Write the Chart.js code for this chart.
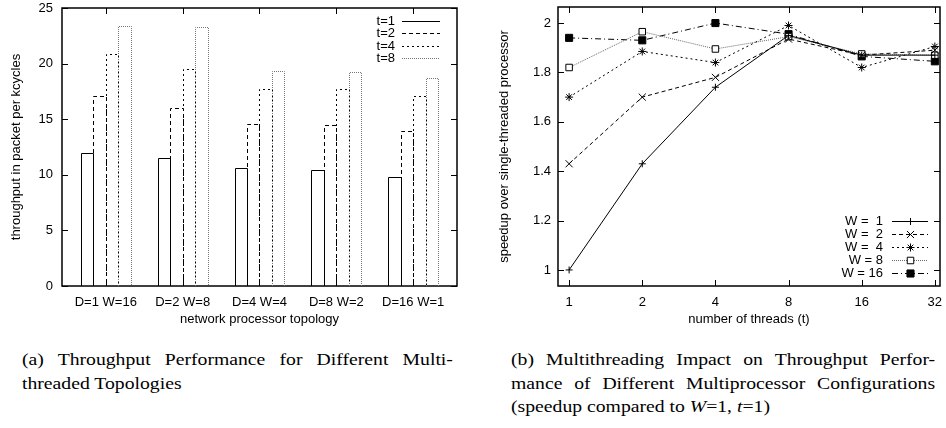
<!DOCTYPE html>
<html>
<head>
<meta charset="utf-8">
<script src="https://cdn.jsdelivr.net/npm/chart.js@4/dist/chart.umd.min.js"></script>
<style>
body { margin: 0; background: #fff; width: 946px; height: 428px; position: relative; overflow: hidden; }
.box { position: absolute; top: 0; width: 473px; height: 335px; }
#left { left: 0; }
#right { left: 473px; }
.caption { position: absolute; font-family: "Liberation Serif", "Times New Roman", serif; font-size: 17.5px; line-height: 23.5px; color: #000; transform: scaleX(1.125); transform-origin: 0 0; }
.caption div { text-align: justify; text-align-last: justify; white-space: nowrap; }
.caption div.last { text-align-last: left; }
#capA { left: 22px; top: 348px; width: 383px; }
#capB { left: 511px; top: 348px; width: 377px; }
</style>
</head>
<body>
<div class="box" id="left"><canvas id="barChart"></canvas></div>
<div class="box" id="right"><canvas id="lineChart"></canvas></div>
<div class="caption" id="capA">
  <div>(a) Throughput Performance for Different Multi-</div>
  <div class="last">threaded Topologies</div>
</div>
<div class="caption" id="capB">
  <div>(b) Multithreading Impact on Throughput Perfor-</div>
  <div>mance of Different Multiprocessor Configurations</div>
  <div class="last">(speedup compared to <i>W</i>=1, <i>t</i>=1)</div>
</div>
<script>
// (a) throughput, packets per kcycles
const topologies = ['D=1 W=16', 'D=2 W=8', 'D=4 W=4', 'D=8 W=2', 'D=16 W=1'];
const t1 = [12.0, 11.5, 10.6, 10.4, 9.8];
const t2 = [17.1, 16.0, 14.6, 14.5, 13.9];
const t4 = [20.9, 19.5, 17.7, 17.7, 17.1];
const t8 = [23.4, 23.3, 19.3, 19.2, 18.7];
const barTicks = [0, 5, 10, 15, 20, 25];

// (b) speedup vs number of threads
const threads = [1, 2, 4, 8, 16, 32];
const w1 = [1.0, 1.43, 1.74, 1.95, 1.87, 1.87];
const w2 = [1.43, 1.70, 1.78, 1.935, 1.87, 1.89];
const w4 = [1.70, 1.885, 1.84, 1.99, 1.82, 1.905];
const w8 = [1.82, 1.965, 1.895, 1.945, 1.875, 1.87];
const w16 = [1.94, 1.93, 2.0, 1.955, 1.865, 1.845];
const speedTicks = [1, 1.2, 1.4, 1.6, 1.8, 2];

Chart.defaults.font.family = '"Liberation Sans", Arial, sans-serif';
Chart.defaults.font.size = 13;
Chart.defaults.color = '#000';
Chart.defaults.animation = false;

// gnuplot style: frame all round, ticks pointing inwards on every side
const framePlugin = {
	id: 'frame',
	beforeDatasetsDraw(chart) {
		const { ctx, chartArea: a, scales } = chart;
		const len = 6;
		ctx.save();
		ctx.strokeStyle = '#000';
		ctx.lineWidth = 1;
		ctx.beginPath();
		scales.x.ticks.forEach((t) => {
			const px = Math.round(scales.x.getPixelForValue(t.value)) + 0.5;
			ctx.moveTo(px, a.bottom);
			ctx.lineTo(px, a.bottom - len);
			ctx.moveTo(px, a.top);
			ctx.lineTo(px, a.top + len);
		});
		scales.y.ticks.forEach((t) => {
			const py = Math.round(scales.y.getPixelForValue(t.value)) + 0.5;
			ctx.moveTo(a.left, py);
			ctx.lineTo(a.left + len, py);
			ctx.moveTo(a.right, py);
			ctx.lineTo(a.right - len, py);
		});
		ctx.stroke();
		ctx.lineWidth = 1.5;
		ctx.strokeRect(a.left, a.top, a.right - a.left, a.bottom - a.top);
		ctx.restore();
	},
};

// bars are drawn as open boxes with dashed outlines
const boxPlugin = {
	id: 'boxes',
	afterDatasetsDraw(chart) {
		const ctx = chart.ctx;
		chart.data.datasets.forEach((ds, i) => {
			const meta = chart.getDatasetMeta(i);
			if (meta.type !== 'bar') return;
			ctx.save();
			ctx.strokeStyle = ds.outline;
			ctx.lineWidth = 1;
			ctx.setLineDash(ds.dash);
			meta.data.forEach((bar) => {
				const l = Math.round(bar.x - bar.width / 2) + 0.5;
				const r = Math.round(bar.x + bar.width / 2) + 0.5;
				const top = Math.round(bar.y) + 0.5;
				ctx.beginPath();
				ctx.moveTo(l, bar.base);
				ctx.lineTo(l, top);
				ctx.lineTo(r, top);
				ctx.lineTo(r, bar.base);
				ctx.stroke();
			});
			ctx.restore();
		});
	},
};

// key in the gnuplot way: label right aligned, sample line to its right
const keyPlugin = {
	id: 'key',
	afterDatasetsDraw(chart, args, opts) {
		const ctx = chart.ctx;
		ctx.save();
		ctx.font = '13px "Liberation Sans", Arial, sans-serif';
		ctx.textAlign = 'right';
		ctx.textBaseline = 'middle';
		chart.data.datasets.forEach((ds, i) => {
			const y = Math.round(opts.top + i * opts.step) + 0.5;
			const mid = Math.round((opts.lineStart + opts.lineEnd) / 2) + 0.5;
			ctx.fillStyle = '#000';
			ctx.fillText(ds.label, opts.textRight, y);
			ctx.strokeStyle = ds.outline || ds.borderColor;
			ctx.lineWidth = 1;
			ctx.setLineDash(ds.dash || ds.borderDash || []);
			ctx.beginPath();
			ctx.moveTo(opts.lineStart, y);
			ctx.lineTo(opts.lineEnd, y);
			ctx.stroke();
			ctx.setLineDash([]);
			if (ds.pointStyle) {
				ctx.fillStyle = ds.pointBackgroundColor;
				ctx.strokeStyle = '#000';
				Chart.helpers.drawPoint(ctx, {
					pointStyle: ds.pointStyle,
					radius: ds.pointRadius,
					rotation: 0,
					borderWidth: 1,
				}, mid, y);
			}
		});
		ctx.restore();
	},
};

// the scales should not push the plot area around: it is pinned by hand
function pin(size) {
	return (s) => {
		if (s.isHorizontal()) s.height = size;
		else s.width = size;
		s.paddingTop = 0;
		s.paddingBottom = 0;
		s.paddingLeft = 0;
		s.paddingRight = 0;
	};
}

function barSet(label, values, dash, colour) {
	return {
		label: label,
		data: values.map((v, i) => ({ x: i, y: v })),
		backgroundColor: 'rgba(0,0,0,0)',
		borderWidth: 0,
		outline: colour,
		dash: dash,
	};
}

new Chart(document.getElementById('barChart'), {
	type: 'bar',
	data: {
		datasets: [
			barSet('t=1', t1, [], '#000'),
			barSet('t=2', t2, [4, 3], '#000'),
			barSet('t=4', t4, [2, 3], '#000'),
			barSet('t=8', t8, [1, 1], '#777'),
		],
	},
	options: {
		responsive: true,
		maintainAspectRatio: false,
		layout: { padding: { left: 0, top: 8, right: 16, bottom: 0 } },
		categoryPercentage: 0.65,
		barPercentage: 1.0,
		plugins: {
			legend: { display: false },
			tooltip: { enabled: false },
			key: { textRight: 395, lineStart: 402, lineEnd: 440, top: 21, step: 12.4 },
		},
		scales: {
			x: {
				type: 'linear',
				offset: false,
				min: -0.57,
				max: 4.57,
				grid: { display: false, drawTicks: false, offset: false },
				border: { display: false },
				afterBuildTicks: (axis) => {
					axis.ticks = topologies.map((_, i) => ({ value: i }));
				},
				afterFit: pin(49),
				ticks: {
					padding: 9,
					maxRotation: 0,
					autoSkip: false,
					callback: (v) => topologies[v],
				},
				title: { display: true, text: 'network processor topology', padding: { top: 0, bottom: 8 } },
			},
			y: {
				min: 0,
				max: 25,
				grid: { display: false, drawTicks: false },
				border: { display: false },
				afterBuildTicks: (axis) => {
					axis.ticks = barTicks.map((v) => ({ value: v }));
				},
				afterFit: pin(62),
				ticks: { padding: 9, callback: (v) => String(v) },
				title: { display: true, text: 'throughput in packet per kcycles', padding: { top: 9, bottom: 0 } },
			},
		},
	},
	plugins: [framePlugin, boxPlugin, keyPlugin],
});

function lineSet(label, values, dash, colour, style, fill, radius) {
	return {
		label: label,
		data: values.map((v, i) => ({ x: threads[i], y: v })),
		borderColor: colour,
		borderWidth: 1,
		borderDash: dash,
		pointStyle: style,
		pointRadius: radius,
		pointBorderColor: '#000',
		pointBackgroundColor: fill,
		pointBorderWidth: 1,
		tension: 0,
		fill: false,
	};
}

new Chart(document.getElementById('lineChart'), {
	type: 'line',
	data: {
		datasets: [
			lineSet('W =  1', w1, [], '#000', 'cross', '#000', 3.5),
			lineSet('W =  2', w2, [4, 3], '#000', 'crossRot', '#000', 5),
			lineSet('W =  4', w4, [2, 3], '#000', 'star', '#000', 4),
			lineSet('W = 8', w8, [1, 1], '#666', 'rect', '#fff', 4.6),
			lineSet('W = 16', w16, [6, 3, 1, 3], '#000', 'rect', '#000', 5),
		],
	},
	options: {
		responsive: true,
		maintainAspectRatio: false,
		layout: { padding: { left: 0, top: 7, right: 5, bottom: 0 } },
		plugins: {
			legend: { display: false },
			tooltip: { enabled: false },
			key: { textRight: 410, lineStart: 419, lineEnd: 455, top: 220.5, step: 13.1 },
		},
		scales: {
			x: {
				type: 'logarithmic',
				min: 0.9,
				max: 33.6,
				grid: { display: false, drawTicks: false },
				border: { display: false },
				afterBuildTicks: (axis) => {
					axis.ticks = threads.map((v) => ({ value: v }));
				},
				afterFit: pin(49),
				ticks: { padding: 9, maxRotation: 0, autoSkip: false, callback: (v) => String(v) },
				title: { display: true, text: 'number of threads (t)', padding: { top: 0, bottom: 8 } },
			},
			y: {
				min: 0.935,
				max: 2.065,
				grid: { display: false, drawTicks: false },
				border: { display: false },
				afterBuildTicks: (axis) => {
					axis.ticks = speedTicks.map((v) => ({ value: v }));
				},
				afterFit: pin(85),
				ticks: { padding: 7, callback: (v) => String(v) },
				title: { display: true, text: 'speedup over single-threaded processor', padding: { top: 24, bottom: 0 } },
			},
		},
	},
	plugins: [framePlugin, keyPlugin],
});
</script>
</body>
</html>
